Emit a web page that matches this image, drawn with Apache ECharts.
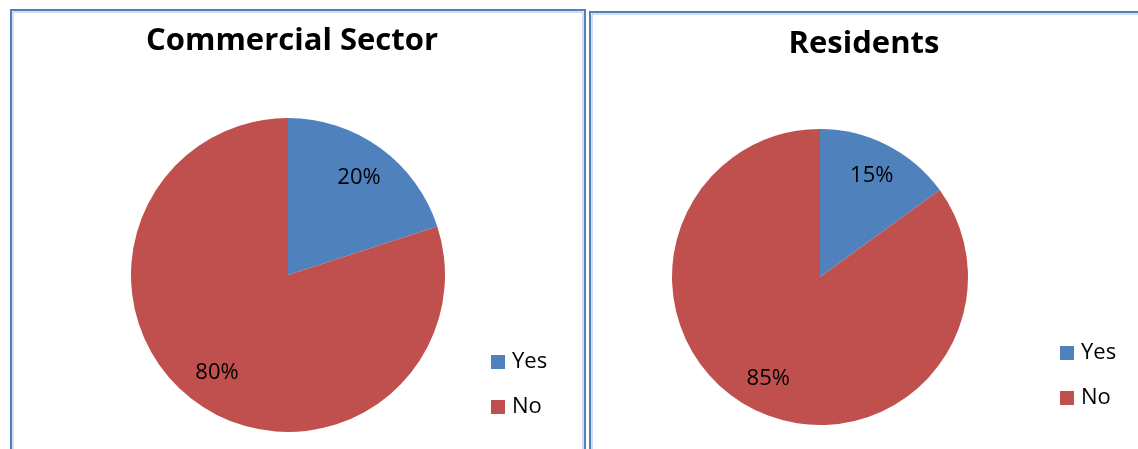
<!DOCTYPE html>
<html>
<head>
<meta charset="utf-8">
<script src="https://cdn.jsdelivr.net/npm/echarts@6/dist/echarts.min.js"></script>
<style>
  html, body { margin: 0; padding: 0; background: #ffffff; }
  #chart { width: 1138px; height: 449px; }
</style>
</head>
<body>
<div id="chart"></div>
<script>
// Survey answers for two groups
const categories = ['Yes', 'No'];
const commercialValues = [20, 80];
const residentValues = [15, 85];
const panelTitles = ['Commercial Sector', 'Residents'];
const sliceColors = ['#4f81bd', '#c0504d'];

const FONT = '"Open Sans", "Liberation Sans", sans-serif';

function toData(values) {
  return categories.map((name, i) => ({ name: name, value: values[i] }));
}

// Filled pie without labels
function piePart(values, center, radius) {
  return {
    type: 'pie',
    center: center,
    radius: radius,
    startAngle: 90,
    clockwise: true,
    silent: true,
    label: { show: false },
    labelLine: { show: false },
    itemStyle: { borderWidth: 0 },
    data: toData(values)
  };
}

// Transparent ring carrying the percentage labels at ~3/4 of the radius
function labelRing(values, center, radius) {
  const r = parseFloat(radius);
  return {
    type: 'pie',
    center: center,
    radius: [(r * 0.5) + 'px', r + 'px'],
    startAngle: 90,
    clockwise: true,
    silent: true,
    z: 3,
    itemStyle: { color: 'transparent', borderWidth: 0 },
    label: {
      show: true,
      position: 'inside',
      formatter: '{c}%',
      fontFamily: FONT,
      fontSize: 22,
      color: '#000000'
    },
    labelLine: { show: false },
    data: toData(values)
  };
}

const leftCenter = [288, 275];
const rightCenter = [820, 277];
const leftRadius = '157';
const rightRadius = '148';

function legendAt(left, top) {
  return {
    data: categories,
    orient: 'vertical',
    left: left,
    top: top,
    padding: 0,
    icon: 'rect',
    itemWidth: 14,
    itemHeight: 14,
    itemGap: 23,
    selectedMode: false,
    textStyle: { fontFamily: FONT, fontSize: 22, color: '#000000', padding: [0, 0, 0, 2] }
  };
}

function frame(x, y, w, h) {
  return [
    { type: 'rect', shape: { x: x, y: y, width: w, height: h },
      style: { fill: 'none', stroke: '#4f81bd', lineWidth: 2 }, silent: true },
    { type: 'rect', shape: { x: x + 2, y: y + 2, width: w - 4, height: h - 4 },
      style: { fill: 'none', stroke: '#a7c0de', lineWidth: 1 }, silent: true }
  ];
}

const chart = echarts.init(document.getElementById('chart'), null, { renderer: 'canvas' });

chart.setOption({
  backgroundColor: '#ffffff',
  animation: false,
  color: sliceColors,
  title: [
    { text: panelTitles[0], left: 287, top: 21, textAlign: 'center',
      textStyle: { fontFamily: FONT, fontWeight: 'bold', fontSize: 31, color: '#000000' } },
    { text: panelTitles[1], left: 859, top: 24, textAlign: 'center',
      textStyle: { fontFamily: FONT, fontWeight: 'bold', fontSize: 31, color: '#000000' } }
  ],
  legend: [legendAt(491, 351), legendAt(1060, 342)],
  graphic: [].concat(
    frame(11, 10, 574, 460),
    frame(590, 12, 560, 460)
  ),
  series: [
    piePart(commercialValues, leftCenter, leftRadius),
    labelRing(commercialValues, leftCenter, leftRadius),
    piePart(residentValues, rightCenter, rightRadius),
    labelRing(residentValues, rightCenter, rightRadius)
  ]
});
</script>
</body>
</html>
